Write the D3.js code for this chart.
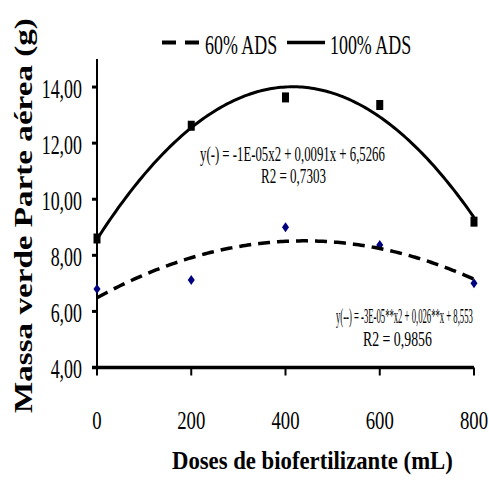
<!DOCTYPE html>
<html>
<head>
<meta charset="utf-8">
<script src="https://cdn.jsdelivr.net/npm/d3@7"></script>
<style>
  body { margin: 0; background: #fff; }
  text { font-family: "Liberation Serif", "Times New Roman", serif; fill: #000; }
</style>
</head>
<body>
<div id="chart"></div>
<script>
// data
const doses = [0, 200, 400, 600, 800];
const ads60 = [6.8, 7.12, 9.0, 8.37, 7.0];
const ads100 = [8.6, 12.62, 13.63, 13.36, 9.2];
const yTicks = [4, 6, 8, 10, 12, 14];
const xTicks = [0, 200, 400, 600, 800];
const seriesNames = ['60% ADS', '100% ADS'];
const eqLabels = [
  ['y(-) = -1E-05x2 + 0,0091x + 6,5266', 'R2 = 0,7303'],
  ['y(--) = -3E-05**x2 + 0,026**x + 8,553', 'R2 = 0,9856']
];

const width = 489, height = 483;

const svg = d3.select('#chart').append('svg')
  .attr('width', width)
  .attr('height', height);

const xScale = d3.scaleLinear().domain([0, 800]).range([97, 474]);
const yScale = d3.scaleLinear().domain([4, 15]).range([367.5, 59]);

const fmt = d3.formatLocale({ decimal: ',', thousands: '.', grouping: [3], currency: ['', ''] }).format('.2f');

// least squares quadratic, like the spreadsheet trendline
function quadFit(xs, ys) {
  const n = xs.length;
  let s1 = 0, s2 = 0, s3 = 0, s4 = 0, t0 = 0, t1 = 0, t2 = 0;
  xs.forEach((x, i) => {
    const y = ys[i];
    s1 += x; s2 += x * x; s3 += x * x * x; s4 += x * x * x * x;
    t0 += y; t1 += x * y; t2 += x * x * y;
  });
  const m = [[n, s1, s2, t0], [s1, s2, s3, t1], [s2, s3, s4, t2]];
  for (let c = 0; c < 3; c++) {
    for (let r = c + 1; r < 3; r++) {
      const f = m[r][c] / m[c][c];
      for (let k = c; k < 4; k++) m[r][k] -= f * m[c][k];
    }
  }
  const coef = [0, 0, 0];
  for (let r = 2; r >= 0; r--) {
    let s = m[r][3];
    for (let k = r + 1; k < 3; k++) s -= m[r][k] * coef[k];
    coef[r] = s / m[r][r];
  }
  return x => coef[0] + coef[1] * x + coef[2] * x * x;
}

// squeeze a text horizontally into a given width (the source figure is condensed)
function squeeze(sel, x, y, w, rot) {
  const natural = sel.node().getComputedTextLength();
  const sx = w / natural;
  sel.attr('transform', `translate(${x},${y})` + (rot ? ` rotate(${rot})` : '') + ` scale(${sx},1)`);
  return sel;
}

// axes
const yaxis = svg.append('g').attr('class', 'y axis');
yaxis.append('line')
  .attr('x1', xScale(0)).attr('x2', xScale(0))
  .attr('y1', yScale(15)).attr('y2', yScale(4))
  .attr('stroke', '#000').attr('stroke-width', 2);
yaxis.selectAll('.tick').data(yTicks).enter().append('line')
  .attr('x1', xScale(0) - 5).attr('x2', xScale(0))
  .attr('y1', d => yScale(d)).attr('y2', d => yScale(d))
  .attr('stroke', '#000').attr('stroke-width', 3);
yaxis.selectAll('text').data(yTicks).enter().append('text')
  .attr('transform', d => `translate(82,${yScale(d) + 10.5}) scale(0.64,1)`)
  .attr('text-anchor', 'end')
  .style('font-size', '28px')
  .text(d => fmt(d));

const xaxis = svg.append('g').attr('class', 'x axis');
xaxis.append('line')
  .attr('x1', xScale(0) - 5).attr('x2', xScale(800))
  .attr('y1', yScale(4)).attr('y2', yScale(4))
  .attr('stroke', '#000').attr('stroke-width', 3.5);
xaxis.selectAll('.tick').data(xTicks).enter().append('line')
  .attr('x1', d => xScale(d)).attr('x2', d => xScale(d))
  .attr('y1', yScale(4)).attr('y2', yScale(4) + 8)
  .attr('stroke', '#000').attr('stroke-width', 2);
xaxis.selectAll('text').data(xTicks).enter().append('text')
  .attr('transform', d => `translate(${xScale(d)},429) scale(0.72,1)`)
  .attr('text-anchor', 'middle')
  .style('font-size', '26px')
  .text(d => d);

// axis titles
const xTitle = svg.append('text')
  .style('font-size', '26px').style('font-weight', 'bold')
  .text('Doses de biofertilizante (mL)');
squeeze(xTitle, 172, 469, 281);

// rotated title: its length runs along y, so stretch it in its own x
const yTitle = svg.append('text')
  .style('font-size', '25px').style('font-weight', 'bold')
  .text('Massa verde Parte aérea (g)');
squeeze(yTitle, 32, 413, 395, -90);

// markers
svg.append('g').selectAll('rect').data(doses).enter().append('rect')
  .attr('x', d => xScale(d) - 3.5)
  .attr('y', (d, i) => yScale(ads100[i]) - 5)
  .attr('width', 7).attr('height', 10)
  .attr('fill', '#000');

svg.append('g').selectAll('path').data(doses).enter().append('path')
  .attr('transform', (d, i) => `translate(${xScale(d)},${yScale(ads60[i])})`)
  .attr('d', 'M0,-5L3.5,0L0,5L-3.5,0Z')
  .attr('fill', '#000080');

// trendlines
const xs = d3.range(0, 801, 5);
const line = d3.line().x(d => xScale(d[0])).y(d => yScale(d[1]));
const fit60 = quadFit(doses, ads60);
const fit100 = quadFit(doses, ads100);

svg.append('path')
  .attr('d', line(xs.map(x => [x, fit60(x)])))
  .attr('fill', 'none').attr('stroke', '#000')
  .attr('stroke-width', 3.5).attr('stroke-dasharray', '12,7');

svg.append('path')
  .attr('d', line(xs.map(x => [x, fit100(x)])))
  .attr('fill', 'none').attr('stroke', '#000')
  .attr('stroke-width', 3);

// equation labels
const eqPos = [
  [{ x: 200, y: 161, w: 185 }, { x: 261, y: 183, w: 65 }],
  [{ x: 336, y: 323, w: 137 }, { x: 363, y: 346, w: 69 }]
];
eqLabels.forEach((lines, i) => {
  lines.forEach((t, j) => {
    const p = eqPos[i][j];
    const lbl = svg.append('text')
      .style('font-size', '21px')
      .text(t);
    squeeze(lbl, p.x, p.y, p.w);
  });
});

// legend
const legend = svg.append('g').attr('class', 'legend');
legend.append('line')
  .attr('x1', 162).attr('x2', 199).attr('y1', 42.5).attr('y2', 42.5)
  .attr('stroke', '#000').attr('stroke-width', 4).attr('stroke-dasharray', '14,9');
legend.append('text')
  .attr('transform', 'translate(205,53.5) scale(0.64,1)')
  .style('font-size', '28px')
  .text(seriesNames[0]);
legend.append('line')
  .attr('x1', 287).attr('x2', 325).attr('y1', 42.5).attr('y2', 42.5)
  .attr('stroke', '#000').attr('stroke-width', 3.5);
legend.append('text')
  .attr('transform', 'translate(330,53.5) scale(0.64,1)')
  .style('font-size', '28px')
  .text(seriesNames[1]);
</script>
</body>
</html>
